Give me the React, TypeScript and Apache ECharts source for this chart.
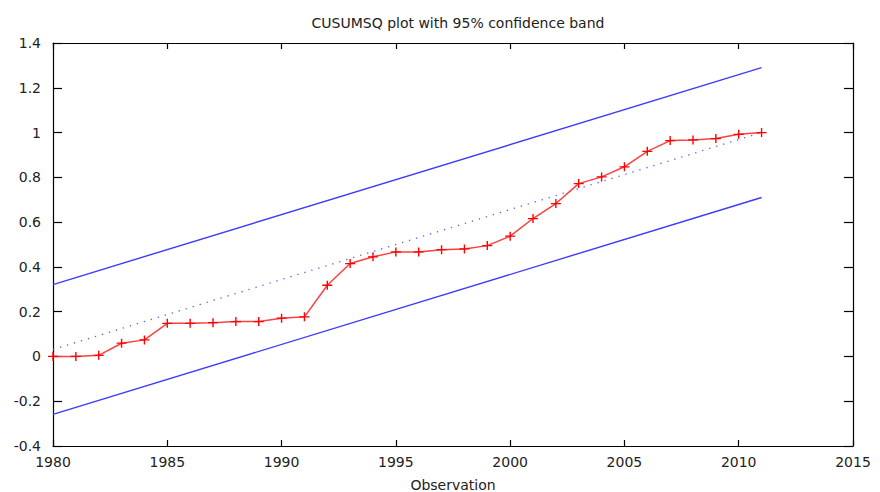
import React, { useEffect, useRef } from "react";
import * as echarts from "echarts";

const titleText = "CUSUMSQ plot with 95% confidence band";
const xAxisName = "Observation";

const years = [
  1980, 1981, 1982, 1983, 1984, 1985, 1986, 1987, 1988, 1989, 1990, 1991,
  1992, 1993, 1994, 1995, 1996, 1997, 1998, 1999, 2000, 2001, 2002, 2003,
  2004, 2005, 2006, 2007, 2008, 2009, 2010, 2011,
];
const cusumsq = [
  0, 0.0, 0.005, 0.059, 0.074, 0.148, 0.148, 0.151, 0.156, 0.156, 0.171,
  0.177, 0.318, 0.415, 0.445, 0.467, 0.467, 0.477, 0.48, 0.495, 0.537, 0.616,
  0.683, 0.772, 0.802, 0.847, 0.916, 0.964, 0.967, 0.973, 0.992, 1.0,
];

// straight lines: endpoints only
const bandYears = [1980, 2011];
const upperBand = [0.321, 1.29];
const lowerBand = [-0.259, 0.71];
const expected = [0.031, 1.0];

const xMin = 1980;
const xMax = 2015;
const xInterval = 5;
const yMin = -0.4;
const yMax = 1.4;
const yInterval = 0.2;

const FONT = "DejaVu Sans";
const plusSymbol =
  "path://M0,4.3h10v1.4h-10z M4.3,0h1.4v10h-1.4z";

export default function App() {
  const ref = useRef<HTMLDivElement>(null);

  useEffect(() => {
    document.body.style.margin = "0";
    if (!ref.current) return;
    const chart = echarts.init(ref.current, null, { renderer: "svg" });

    const pairs = (xs: number[], ys: number[]) => xs.map((x, i) => [x, ys[i]]);

    const hiddenAxisCommon = {
      axisLabel: { show: false },
      splitLine: { show: false },
    };

    chart.setOption({
      animation: false,
      backgroundColor: "#ffffff",
      title: {
        text: titleText,
        left: 453,
        textAlign: "center",
        top: 11,
        textStyle: {
          fontFamily: FONT,
          fontSize: 14,
          fontWeight: "normal",
          color: "#222222",
        },
      },
      grid: {
        left: 53,
        right: 27,
        top: 43,
        bottom: 46,
        outerBoundsMode: "none",
        containLabel: false,
      },
      xAxis: [
        {
          type: "value",
          min: xMin,
          max: xMax,
          interval: xInterval,
          position: "bottom",
          name: xAxisName,
          nameLocation: "middle",
          nameGap: 32,
          nameTextStyle: { fontFamily: FONT, fontSize: 14, color: "#222222" },
          axisLine: { show: true, onZero: false, lineStyle: { color: "#000", width: 1.2 } },
          axisTick: { show: true, inside: true, length: 6, lineStyle: { color: "#000", width: 1.2 } },
          axisLabel: {
            fontFamily: FONT,
            fontSize: 14,
            color: "#222222",
            margin: 9,
            formatter: (v: number) => String(v),
          },
          splitLine: { show: false },
        },
        {
          type: "value",
          min: xMin,
          max: xMax,
          interval: xInterval,
          position: "top",
          axisLine: { show: true, onZero: false, lineStyle: { color: "#000", width: 1.2 } },
          axisTick: { show: true, inside: true, length: 6, lineStyle: { color: "#000", width: 1.2 } },
          ...hiddenAxisCommon,
        },
      ],
      yAxis: [
        {
          type: "value",
          min: yMin,
          max: yMax,
          interval: yInterval,
          position: "left",
          axisLine: { show: true, onZero: false, lineStyle: { color: "#000", width: 1.2 } },
          axisTick: { show: true, inside: true, length: 9, lineStyle: { color: "#000", width: 1.2 } },
          axisLabel: {
            fontFamily: FONT,
            fontSize: 14,
            color: "#222222",
            margin: 12,
          },
          splitLine: { show: false },
        },
        {
          type: "value",
          min: yMin,
          max: yMax,
          interval: yInterval,
          position: "right",
          axisLine: { show: true, onZero: false, lineStyle: { color: "#000", width: 1.2 } },
          axisTick: { show: true, inside: true, length: 9, lineStyle: { color: "#000", width: 1.2 } },
          ...hiddenAxisCommon,
        },
      ],
      series: [
        {
          name: "upper",
          type: "line",
          data: pairs(bandYears, upperBand),
          showSymbol: false,
          symbol: "none",
          lineStyle: { color: "#3c3cff", width: 1.4 },
          silent: true,
          z: 2,
        },
        {
          name: "lower",
          type: "line",
          data: pairs(bandYears, lowerBand),
          showSymbol: false,
          symbol: "none",
          lineStyle: { color: "#3c3cff", width: 1.4 },
          silent: true,
          z: 2,
        },
        {
          name: "expected",
          type: "line",
          data: pairs(bandYears, expected),
          showSymbol: false,
          symbol: "none",
          lineStyle: { color: "#5a5aff", width: 1.3, type: [1.3, 6] },
          silent: true,
          z: 2,
        },
        {
          name: "CUSUMSQ",
          type: "line",
          data: pairs(years, cusumsq),
          symbol: plusSymbol,
          symbolSize: [10, 9],
          showAllSymbol: true,
          clip: false,
          itemStyle: { color: "#ff0000" },
          lineStyle: { color: "#ff4040", width: 1.5 },
          silent: true,
          z: 3,
        },
      ],
    });

    return () => chart.dispose();
  }, []);

  return (
    <div
      ref={ref}
      style={{ position: "absolute", left: 0, top: 0, width: 880, height: 492 }}
    />
  );
}
